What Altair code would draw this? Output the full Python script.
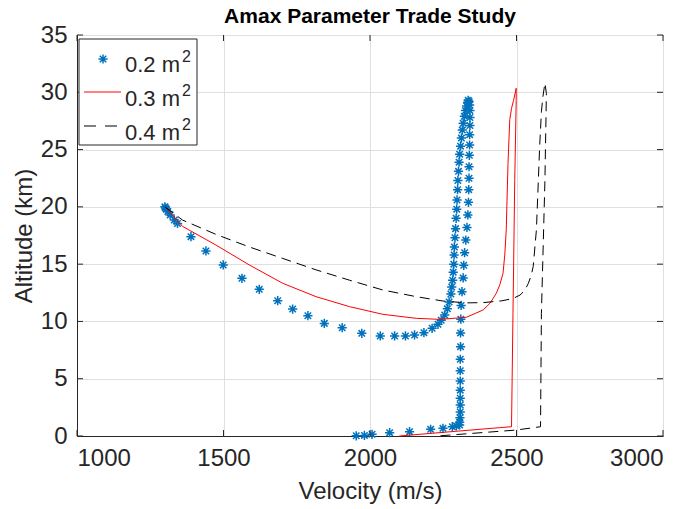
import altair as alt
import pandas as pd

# ---- data ----
v02 = [1300, 1302, 1305, 1310, 1318, 1332, 1343, 1389, 1440, 1499, 1563, 1622, 1685, 1736,
       1788, 1844, 1905, 1972, 2035, 2084, 2121, 2152, 2184, 2212, 2232, 2243, 2255, 2264,
       2270, 2276, 2279, 2282, 2284, 2286, 2287, 2288, 2290, 2292, 2294, 2296, 2297, 2299,
       2300, 2302, 2304, 2306, 2309, 2312, 2315, 2318, 2322, 2326, 2330, 2333, 2335,
       2338, 2340, 2341, 2341, 2341, 2340, 2340, 2339, 2338, 2338, 2337, 2336, 2334, 2331,
       2327, 2323, 2320, 2318, 2314, 2311, 2310, 2309, 2309, 2308, 2308, 2308, 2308, 2308,
       2308, 2308, 2307, 2306, 2306, 2295, 2281, 2249, 2207, 2135, 2067, 2007, 1981, 1953]
h02 = [20.0, 19.9, 19.8, 19.6, 19.3, 18.85, 18.55, 17.4, 16.15, 14.93, 13.76, 12.8, 11.81, 11.08,
       10.5, 9.83, 9.45, 8.96, 8.73, 8.73, 8.73, 8.82, 9.02, 9.4, 9.75, 10.1, 10.56, 11.1,
       11.7, 12.4, 13.0, 13.6, 14.3, 15.0, 15.8, 16.5, 17.3, 18.1, 19.0, 19.8, 20.6, 21.5,
       22.3, 23.1, 23.9, 24.6, 25.3, 26.0, 26.7, 27.3, 27.9, 28.4, 28.8, 29.1, 29.3,
       29.2, 28.9, 28.4, 27.8, 27.1, 26.3, 25.4, 24.5, 23.5, 22.5, 21.5, 20.4, 19.3, 18.2,
       17.1, 16.0, 14.9, 13.8, 12.6, 11.4, 10.2, 9.0, 7.8, 6.7, 5.7, 4.8, 4.0, 3.3,
       2.7, 2.1, 1.6, 1.2, 0.96, 0.88, 0.81, 0.67, 0.58, 0.38, 0.29, 0.15, 0.05, 0.02]

v03 = [1300, 1360, 1474, 1588, 1702, 1816, 1930, 2044, 2158, 2238, 2329, 2386, 2410, 2431,
       2443, 2454, 2460, 2465, 2471, 2477, 2483, 2490, 2499, 2499, 2494, 2488, 2483, 2443, 2100]
h03 = [20.0, 18.3, 16.67, 14.93, 13.33, 12.16, 11.29, 10.62, 10.27, 10.18, 10.36, 11.0, 11.6, 12.45,
       13.2, 14.2, 15.8, 18.0, 23.8, 27.6, 28.6, 29.3, 30.35, 29.3, 22.3, 10.7, 0.81, 0.73, 0.0]

v04 = [1300, 1360, 1474, 1588, 1702, 1816, 1930, 2044, 2158, 2249, 2330, 2386, 2450, 2488,
       2512, 2528, 2540, 2550, 2557, 2568, 2579, 2585, 2590, 2597, 2602, 2597, 2585, 2582, 2499,
       2230]
h04 = [20.0, 18.85, 17.6, 16.5, 15.5, 14.5, 13.6, 12.74, 12.16, 11.78, 11.62, 11.64, 11.8, 12.0,
       12.3, 12.7, 13.3, 14.0, 14.8, 18.0, 25.25, 28.3, 29.6, 30.8, 29.9, 22.3, 10.7, 0.81, 0.52,
       0.0]

x_ticks = [1000, 1500, 2000, 2500, 3000]
y_ticks = [0, 5, 10, 15, 20, 25, 30, 35]
legend_labels = ["0.2 m", "0.3 m", "0.4 m"]

W, H = 586, 401
FONT = "Liberation Sans"
INK = "#262626"
BLUE = "#0072BD"
STAR = "M-1,0L1,0M0,-1L0,1M-0.7,-0.7L0.7,0.7M-0.7,0.7L0.7,-0.7"

d02 = pd.DataFrame({"v": v02, "h": h02, "i": range(len(v02))})
d03 = pd.DataFrame({"v": v03, "h": h03, "i": range(len(v03))})
d04 = pd.DataFrame({"v": v04, "h": h04, "i": range(len(v04))})

xs = alt.Scale(domain=[1000, 3000], nice=False)
ys = alt.Scale(domain=[0, 35], nice=False)

xax = alt.Axis(values=x_ticks, format="d", grid=True, gridColor="#dfdfdf", domainColor=INK,
               tickSize=0, labelFontSize=24, labelFont=FONT, labelColor=INK, labelPadding=10,
               titleFontSize=24, titleFont=FONT, titleColor=INK, titleFontWeight="normal",
               titlePadding=9, domainWidth=1)
yax = alt.Axis(values=y_ticks, format="d", grid=True, gridColor="#dfdfdf", domainColor=INK,
               tickSize=0, labelFontSize=24, labelFont=FONT, labelColor=INK, labelPadding=10,
               titleFontSize=24, titleFont=FONT, titleColor=INK, titleFontWeight="normal",
               titlePadding=4, domainWidth=1)

X = alt.X("v:Q", scale=xs, axis=xax, title="Velocity (m/s)")
Y = alt.Y("h:Q", scale=ys, axis=yax, title="Altitude (km)")

stars = alt.Chart(d02).mark_point(shape=STAR, size=85, filled=False, color=BLUE,
                                  strokeWidth=1.5, opacity=1).encode(x=X, y=Y)
red = alt.Chart(d03).mark_line(color="#FF0000", strokeWidth=1).encode(
    x=alt.X("v:Q", scale=xs), y=alt.Y("h:Q", scale=ys), order="i:Q")
blk = alt.Chart(d04).mark_line(color="#000000", strokeWidth=1, strokeDash=[10, 6]).encode(
    x=alt.X("v:Q", scale=xs), y=alt.Y("h:Q", scale=ys), order="i:Q")

# inward ticks (MATLAB style), on all four sides
xt = pd.DataFrame({"v": x_ticks})
yt = pd.DataFrame({"h": y_ticks})
tick_style = dict(color=INK, strokeWidth=1)
xb = alt.Chart(xt).mark_rule(**tick_style).encode(
    x=alt.X("v:Q", scale=xs), y=alt.value(H), y2=alt.value(H - 6))
xtop = alt.Chart(xt).mark_rule(**tick_style).encode(
    x=alt.X("v:Q", scale=xs), y=alt.value(0), y2=alt.value(6))
yl = alt.Chart(yt).mark_rule(**tick_style).encode(
    y=alt.Y("h:Q", scale=ys), x=alt.value(0), x2=alt.value(6))
yr = alt.Chart(yt).mark_rule(**tick_style).encode(
    y=alt.Y("h:Q", scale=ys), x=alt.value(W), x2=alt.value(W - 6))

# legend box
one = pd.DataFrame({"a": [0]})
lbox = alt.Chart(one).mark_rect(fill="white", stroke=INK, strokeWidth=1).encode(
    x=alt.value(2), x2=alt.value(120), y=alt.value(4), y2=alt.value(110))
lstar = alt.Chart(one).mark_point(shape=STAR, size=85, filled=False, color=BLUE,
                                  strokeWidth=1.5, opacity=1).encode(
    x=alt.value(26), y=alt.value(24))
lred = alt.Chart(one).mark_rule(color="#FF0000", strokeWidth=1).encode(
    x=alt.value(7), x2=alt.value(44), y=alt.value(57))
lblk = alt.Chart(one).mark_rule(color="#000000", strokeWidth=1, strokeDash=[12, 9]).encode(
    x=alt.value(7), x2=alt.value(44), y=alt.value(91))
ltexts = []
for k, lab in enumerate(legend_labels):
    ltexts.append(alt.Chart(one).mark_text(text=lab, font=FONT, fontSize=22, color=INK,
                                           align="left", baseline="alphabetic").encode(
        x=alt.value(48), y=alt.value(37 + 34 * k)))
    ltexts.append(alt.Chart(one).mark_text(text="2", font=FONT, fontSize=16, color=INK,
                                           align="left", baseline="alphabetic").encode(
        x=alt.value(105), y=alt.value(27 + 34 * k)))

chart = alt.layer(
    stars, red, blk, xb, xtop, yl, yr, lbox, lstar, lred, lblk, *ltexts
).properties(
    width=W, height=H,
    title=alt.TitleParams("Amax Parameter Trade Study", font=FONT, fontSize=21,
                          fontWeight="bold", color="#000000", anchor="middle",
                          offset=-4, frame="group"),
    autosize=alt.AutoSizeParams(type="none"),
    padding={"left": 77, "top": 35, "right": 28, "bottom": 73},
    background="white",
).configure_view(stroke=INK, strokeWidth=1)

chart.save("out.html", embed_options={"renderer": "svg", "actions": False})
